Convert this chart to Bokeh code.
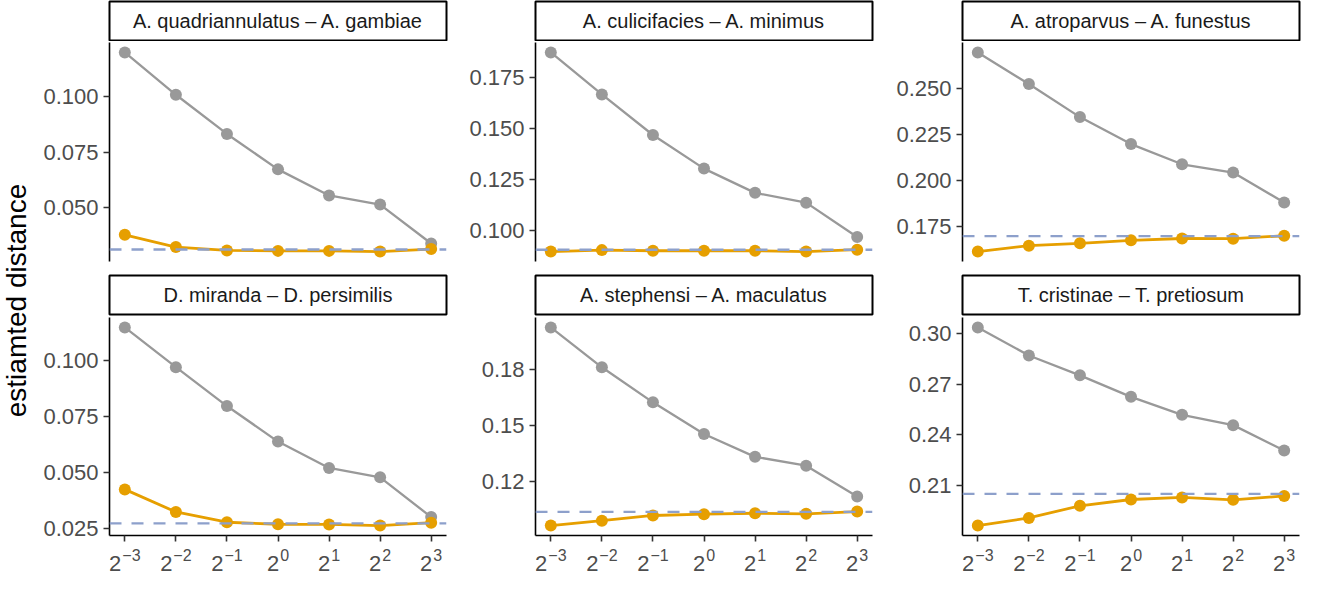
import math
from bokeh.plotting import figure
from bokeh.layouts import row, column
from bokeh.models import Range1d, FixedTicker, PrintfTickFormatter, Span
from bokeh.core.properties import value
from bokeh.embed import file_html
from bokeh.resources import INLINE

# ---------------- data ----------------
scales = [0.125, 0.25, 0.5, 1.0, 2.0, 4.0, 8.0]
scale_base = "2"
scale_exponents = ["\u22123", "\u22122", "\u22121", "0", "1", "2", "3"]

titles = [
    "A. quadriannulatus \u2013 A. gambiae",
    "A. culicifacies \u2013 A. minimus",
    "A. atroparvus \u2013 A. funestus",
    "D. miranda \u2013 D. persimilis",
    "A. stephensi \u2013 A. maculatus",
    "T. cristinae \u2013 T. pretiosum",
]

quad_gam_naive = [0.1197, 0.1007, 0.0831, 0.0672, 0.0555, 0.0514, 0.0339]
quad_gam_corr = [0.0378, 0.0323, 0.0308, 0.0306, 0.0306, 0.0303, 0.0314]
quad_gam_true = 0.0312

cul_min_naive = [0.1872, 0.1666, 0.1467, 0.1302, 0.1183, 0.1135, 0.0966]
cul_min_corr = [0.0895, 0.0902, 0.0899, 0.0899, 0.0899, 0.0895, 0.0904]
cul_min_true = 0.0904

atr_fun_naive = [0.2695, 0.2523, 0.2343, 0.2196, 0.2086, 0.2041, 0.1878]
atr_fun_corr = [0.1611, 0.1643, 0.1656, 0.1672, 0.1682, 0.1681, 0.1697]
atr_fun_true = 0.1695

mir_per_naive = [0.1150, 0.0972, 0.0798, 0.0639, 0.0521, 0.0479, 0.0301]
mir_per_corr = [0.0425, 0.0324, 0.0278, 0.0269, 0.0268, 0.0263, 0.0276]
mir_per_true = 0.0273

ste_mac_naive = [0.2023, 0.1810, 0.1623, 0.1454, 0.1332, 0.1285, 0.1120]
ste_mac_corr = [0.0965, 0.0991, 0.1019, 0.1026, 0.1031, 0.1028, 0.1040]
ste_mac_true = 0.1038

cri_pre_naive = [0.3035, 0.2869, 0.2752, 0.2625, 0.2519, 0.2458, 0.2308]
cri_pre_corr = [0.1865, 0.1910, 0.1982, 0.2019, 0.2031, 0.2017, 0.2040]
cri_pre_true = 0.2052

ticks_1 = [0.050, 0.075, 0.100]
ticks_2 = [0.100, 0.125, 0.150, 0.175]
ticks_3 = [0.175, 0.200, 0.225, 0.250]
ticks_4 = [0.025, 0.050, 0.075, 0.100]
ticks_5 = [0.12, 0.15, 0.18]
ticks_6 = [0.21, 0.24, 0.27, 0.30]
tick_formats = ["%.3f", "%.3f", "%.3f", "%.3f", "%.2f", "%.2f"]

y_title = "estiamted distance"

# ---------------- style ----------------
FONT = "Liberation Sans"
GRAY = "#999999"
ORANGE = "#E69F00"
DASH = "#8DA0CB"
TICK_TXT = "#4D4D4D"

FRAME_W = 337
LEFT = [72, 87, 88]
RIGHT = 2

BASE_PX = 22
EXP_PX = 16
X_RANGE = (2 ** -3.3, 2 ** 3.3)
XLAB_H = 38


def bare(width, height, col, top, bottom, **kw):
    p = figure(width=width, height=height, output_backend="svg", toolbar_location=None,
               x_axis_location=None, y_axis_location=None,
               min_border_left=LEFT[col] if col is not None else 0,
               min_border_right=RIGHT if col is not None else 0,
               min_border_top=top, min_border_bottom=bottom, **kw)
    p.grid.visible = False
    p.outline_line_color = None
    p.background_fill_color = "white"
    p.border_fill_color = "white"
    return p


def strip(title, col, top_border, frame_h, bottom_border):
    p = bare(LEFT[col] + FRAME_W + RIGHT, top_border + frame_h + bottom_border, col,
             top_border, bottom_border, x_range=Range1d(0, 1), y_range=Range1d(0, 1))
    p.outline_line_color = "black"
    p.outline_line_width = 2
    p.text(x=[0.5], y=[0.5], text=[title], text_align="center", text_baseline="middle",
           text_font=value(FONT), text_font_size=value("20px"), text_color="#1A1A1A")
    return p


def text_w(s, px):
    return sum(0.584 if ch == "\u2212" else 0.556 for ch in s) * px


def xlabels(col):
    """Row of 2^k tick labels under a bottom panel, on the panel's own log x scale."""
    p = bare(LEFT[col] + FRAME_W + RIGHT, XLAB_H, col, 0, 0, x_axis_type="log",
             x_range=Range1d(*X_RANGE), y_range=Range1d(0, XLAB_H))
    wb = text_w(scale_base, BASE_PX)
    base_off, exp_off = [], []
    for e in scale_exponents:
        left = -(wb + 1 + text_w(e, EXP_PX)) / 2
        base_off.append(left)
        exp_off.append(left + wb + 1)
    p.text(x=scales, y=[17.5] * len(scales), text=[scale_base] * len(scales), x_offset=base_off,
           text_align="left", text_baseline="middle",
           text_font=value(FONT), text_font_size=value(f"{BASE_PX}px"), text_color=TICK_TXT)
    p.text(x=scales, y=[25.5] * len(scales), text=scale_exponents, x_offset=exp_off,
           text_align="left", text_baseline="middle",
           text_font=value(FONT), text_font_size=value(f"{EXP_PX}px"), text_color=TICK_TXT)
    return p


def panel(naive, corr, truth, ticks, fmt, col, bottom, top_border, frame_h, bottom_border):
    vals = naive + corr + [truth]
    lo, hi = min(vals), max(vals)
    pad = 0.05 * (hi - lo)
    p = figure(width=LEFT[col] + FRAME_W + RIGHT, height=top_border + frame_h + bottom_border,
               x_axis_type="log",
               x_range=Range1d(*X_RANGE), y_range=Range1d(lo - pad, hi + pad),
               x_axis_location="below" if bottom else None,
               output_backend="svg", toolbar_location=None,
               min_border_left=LEFT[col], min_border_right=RIGHT,
               min_border_top=top_border, min_border_bottom=bottom_border)
    p.grid.visible = False
    p.outline_line_color = None
    p.background_fill_color = "white"
    p.border_fill_color = "white"

    axes = list(p.yaxis) + (list(p.xaxis) if bottom else [])
    for ax in axes:
        ax.axis_line_color = "black"
        ax.axis_line_width = 1.6
        ax.major_tick_line_color = "#333333"
        ax.major_tick_line_width = 1.6
        ax.major_tick_out = 6
        ax.major_tick_in = 0
        ax.minor_tick_line_color = None
        ax.major_label_text_font = FONT
        ax.major_label_text_font_size = f"{BASE_PX}px"
        ax.major_label_text_color = TICK_TXT
        ax.major_label_standoff = 5
    p.yaxis.ticker = FixedTicker(ticks=ticks)
    p.yaxis.formatter = PrintfTickFormatter(format=fmt)
    if bottom:
        p.xaxis.ticker = FixedTicker(ticks=scales)
        p.xaxis.major_label_overrides = {s: "" for s in scales}
        p.xaxis.major_label_text_font_size = "0px"
        p.xaxis.major_label_standoff = 0

    p.line(scales, naive, line_color=GRAY, line_width=2.3)
    p.line(scales, corr, line_color=ORANGE, line_width=2.8)
    p.scatter(scales, naive, size=12, fill_color=GRAY, line_color=None)
    p.scatter(scales, corr, size=12, fill_color=ORANGE, line_color=None)
    p.add_layout(Span(location=truth, dimension="width", line_color=DASH,
                      line_width=2.4, line_dash="12 10"))
    return p


naives = [quad_gam_naive, cul_min_naive, atr_fun_naive, mir_per_naive, ste_mac_naive, cri_pre_naive]
corrs = [quad_gam_corr, cul_min_corr, atr_fun_corr, mir_per_corr, ste_mac_corr, cri_pre_corr]
truths = [quad_gam_true, cul_min_true, atr_fun_true, mir_per_true, ste_mac_true, cri_pre_true]
tick_sets = [ticks_1, ticks_2, ticks_3, ticks_4, ticks_5, ticks_6]

columns = []
for c in range(3):
    i_top, i_bot = c, c + 3
    s1 = strip(titles[i_top], c, 1, 39, 1)
    m1 = panel(naives[i_top], corrs[i_top], truths[i_top], tick_sets[i_top], tick_formats[i_top],
               c, False, 1, 219, 11)
    s2 = strip(titles[i_bot], c, 3, 39, 2)
    m2 = panel(naives[i_bot], corrs[i_bot], truths[i_bot], tick_sets[i_bot], tick_formats[i_bot],
               c, True, 1, 218, 7)
    xl = xlabels(c)
    columns.append(column(s1, m1, s2, m2, xl))

# y-axis title spanning both rows
lab = bare(37, 580, None, 0, 0, x_range=Range1d(0, 37), y_range=Range1d(0, 580))
lab.text(x=[16], y=[280], text=[y_title], angle=math.pi / 2,
         text_align="center", text_baseline="middle",
         text_font=value(FONT), text_font_size=value("28px"), text_color="black")

layout = row(lab, *columns)

open("out.html", "w").write(file_html(layout, INLINE))
